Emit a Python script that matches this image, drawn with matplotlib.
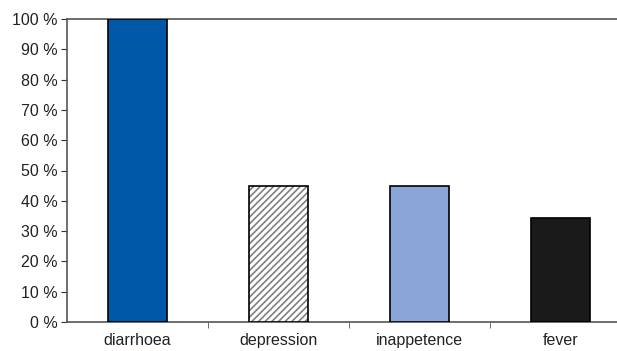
import matplotlib.pyplot as plt
import matplotlib as mpl

# Data
symptoms = ["diarrhoea", "depression", "inappetence", "fever"]
percent = [100, 45, 45, 34.3]
bar_colors = ["#0058a8", "white", "#8aa6d8", "#1a1a1a"]
bar_hatches = [None, "/////", None, None]
y_ticks = list(range(0, 101, 10))
y_labels = [f"{v} %" for v in y_ticks]

plt.rcParams["font.family"] = ["Liberation Sans", "DejaVu Sans"]
mpl.rcParams["hatch.linewidth"] = 1.2

fig = plt.figure(figsize=(6.17, 3.51), dpi=100)
# axes runs past the right edge of the figure, like the cropped original
ax = fig.add_axes([67 / 617, 1 - 322 / 351, 564 / 617, 303 / 351])

x = list(range(len(symptoms)))
for xi, val, col, h in zip(x, percent, bar_colors, bar_hatches):
    if h:
        # gray hatch first, then a black outline on top
        ax.bar(xi, val, width=0.42, color=col, hatch=h, edgecolor="#808080",
               linewidth=0, zorder=3)
        ax.bar(xi, val, width=0.42, fill=False, edgecolor="black",
               linewidth=1.2, zorder=4)
    else:
        ax.bar(xi, val, width=0.42, color=col, edgecolor="black",
               linewidth=1.2, zorder=3)

ax.set_xlim(-0.5, len(symptoms) - 0.5)
ax.set_ylim(0, 100)
ax.set_yticks(y_ticks)
ax.set_yticklabels(y_labels, fontsize=11.5, color="#222222")

ax.set_xticks(x)
ax.set_xticklabels(symptoms, fontsize=11.5, color="#222222")
ax.tick_params(axis="x", length=0, pad=8)
ax.set_xticks([i + 0.5 for i in x[:-1]], minor=True)
ax.tick_params(axis="x", which="minor", length=4, color="#555555", direction="out")
ax.tick_params(axis="y", length=4, color="#333333", direction="out", pad=3)

for side in ["left", "bottom", "top"]:
    ax.spines[side].set_color("#555555")
    ax.spines[side].set_linewidth(1.2)
ax.spines["right"].set_visible(False)

fig.savefig("out.png", dpi=100)
